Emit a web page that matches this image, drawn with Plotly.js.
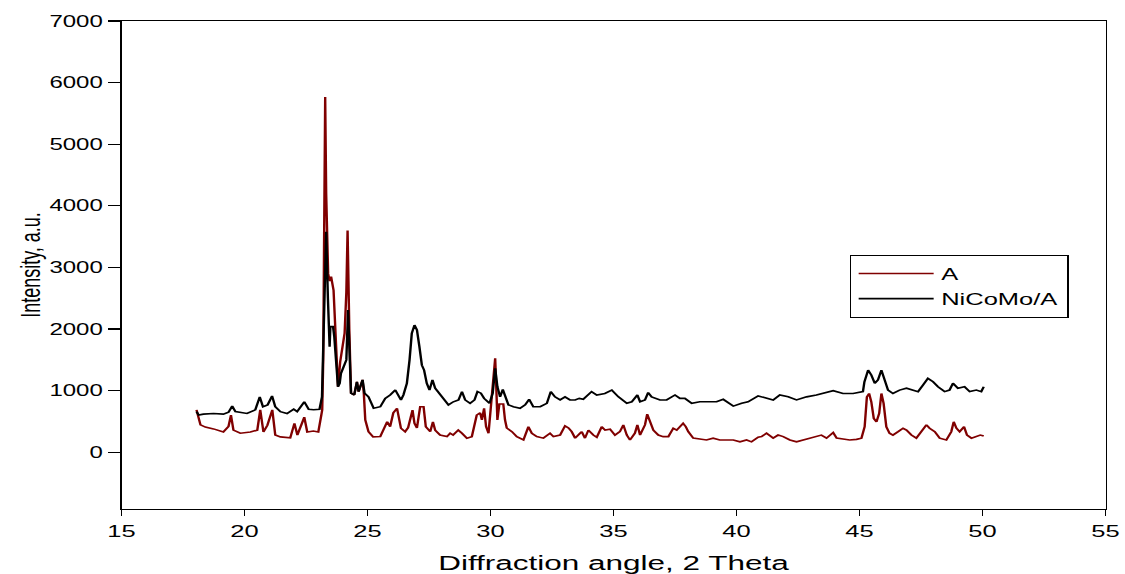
<!DOCTYPE html>
<html>
<head>
<meta charset="utf-8">
<script src="https://cdn.plot.ly/plotly-3.0.1.min.js"></script>
<style>
  html, body { margin: 0; padding: 0; background: #fff; overflow: hidden; width: 1125px; height: 574px; }
  #chart { width: 750px; height: 574px; }
</style>
</head>
<body>
<div id="chart"></div>
<script>
// ---- Data ----
const seriesNames = ['A', 'NiCoMo/A'];

const aAngle = [
  18.05,18.21,18.41,18.74,19.14,19.35,19.45,19.55,19.83,20.24,
  20.52,20.64,20.77,20.93,21.13,21.25,21.46,21.86,22.03,22.15,
  22.43,22.55,22.80,23.00,23.12,23.16,23.20,23.24,23.28,23.32,
  23.40,23.46,23.52,23.62,23.73,23.80,23.89,24.00,24.07,24.14,
  24.19,24.26,24.33,24.46,24.57,24.64,24.72,24.80,24.85,24.88,
  24.91,25.04,25.23,25.52,25.72,25.80,25.92,26.05,26.20,26.25,
  26.36,26.53,26.65,26.83,26.91,27.01,27.14,27.28,27.37,27.55,
  27.66,27.75,27.95,28.23,28.36,28.48,28.69,28.84,29.04,29.24,
  29.44,29.58,29.65,29.74,29.82,29.92,30.03,30.11,30.19,30.24,
  30.28,30.36,30.52,30.59,30.66,30.87,31.07,31.34,31.54,31.68,
  31.88,32.15,32.42,32.56,32.83,33.03,33.17,33.30,33.44,33.64,
  33.71,33.84,33.98,34.18,34.32,34.52,34.66,34.86,35.06,35.26,
  35.40,35.54,35.67,35.87,35.97,36.08,36.28,36.37,36.48,36.62,
  36.82,37.02,37.23,37.43,37.57,37.70,37.83,37.94,38.04,38.24,
  38.51,38.78,39.05,39.32,39.60,39.87,40.14,40.41,40.61,40.88,
  41.02,41.22,41.49,41.69,41.90,42.17,42.44,42.71,42.98,43.25,
  43.45,43.66,43.93,44.07,44.33,44.60,44.88,45.08,45.21,45.30,
  45.39,45.48,45.58,45.69,45.80,45.89,45.98,46.09,46.22,46.36,
  46.57,46.77,46.91,47.11,47.31,47.52,47.72,47.85,48.06,48.26,
  48.53,48.73,48.83,48.94,49.07,49.25,49.37,49.55,49.75,49.91,
  50.05
];
const aIntensity = [
  690,445,410,380,330,420,605,360,310,330,
  360,690,330,440,690,280,250,235,470,280,
  570,330,345,330,600,690,1500,3800,5765,4200,
  2900,2780,2850,2630,1390,1065,1470,1715,1935,2600,
  3600,2000,960,930,1145,985,1060,1175,960,740,
  525,335,250,255,415,495,415,640,715,595,
  390,335,400,685,470,395,740,740,415,335,
  495,360,280,255,310,280,360,310,230,255,
  605,640,525,715,415,310,740,1100,1525,1000,
  525,785,785,525,395,335,255,200,415,310,
  255,230,310,255,280,430,395,335,230,310,
  335,230,360,280,245,415,360,375,280,335,
  445,280,200,310,445,280,445,620,495,360,
  280,255,255,390,360,415,470,415,335,230,
  210,200,230,200,200,200,170,200,170,245,
  255,310,230,280,255,200,170,200,230,255,
  280,230,320,230,210,200,210,230,415,900,
  955,820,550,495,630,955,795,415,310,280,
  335,390,360,280,230,335,445,390,335,230,
  200,335,495,390,335,415,280,230,255,280,
  265
];

const ncmAngle = [
  18.05,18.14,18.33,18.74,19.14,19.35,19.50,19.63,20.10,20.44,
  20.62,20.75,20.94,21.12,21.25,21.46,21.73,22.00,22.14,22.43,
  22.61,22.81,23.05,23.15,23.22,23.32,23.39,23.46,23.49,23.60,
  23.65,23.73,23.80,23.87,23.92,24.03,24.14,24.21,24.27,24.33,
  24.46,24.57,24.64,24.80,24.88,25.04,25.25,25.52,25.72,25.92,
  26.13,26.26,26.36,26.46,26.60,26.71,26.80,26.91,27.01,27.11,
  27.21,27.30,27.41,27.52,27.64,27.75,27.95,28.16,28.29,28.49,
  28.70,28.84,28.97,29.17,29.35,29.47,29.61,29.74,29.96,30.09,
  30.19,30.28,30.39,30.50,30.59,30.73,30.93,31.20,31.41,31.57,
  31.74,32.02,32.29,32.45,32.62,32.83,33.03,33.23,33.44,33.61,
  33.77,34.11,34.32,34.65,34.93,35.20,35.54,35.74,35.97,36.08,
  36.28,36.41,36.55,36.89,37.16,37.50,37.70,37.90,38.18,38.51,
  38.78,39.19,39.46,39.87,40.21,40.47,40.88,41.22,41.49,41.76,
  42.10,42.44,42.85,43.25,43.52,43.93,44.33,44.74,45.14,45.20,
  45.35,45.48,45.62,45.75,45.89,46.03,46.16,46.36,46.63,46.91,
  47.17,47.38,47.58,47.78,47.99,48.19,48.46,48.66,48.80,49.00,
  49.27,49.48,49.75,49.95,50.05
];
const ncmIntensity = [
  660,605,620,630,620,650,750,660,630,690,
  900,740,770,915,740,660,630,700,660,820,
  700,690,700,900,2000,3580,2500,1715,2040,2040,
  1875,1390,1065,1120,1280,1390,1500,2310,1500,960,
  930,1145,985,1175,960,900,715,740,875,930,
  1010,930,850,930,1120,1500,1930,2065,1985,1715,
  1415,1335,1120,1010,1175,1040,930,820,770,820,
  850,985,850,795,850,985,960,875,795,960,
  1365,1065,900,1020,930,770,740,715,770,860,
  740,740,795,985,900,850,900,850,850,875,
  860,985,930,955,1010,900,795,820,930,820,
  850,970,900,850,850,930,875,875,795,820,
  820,820,860,750,795,820,915,875,850,930,
  900,850,900,930,955,1000,955,955,985,1145,
  1335,1255,1120,1175,1335,1175,1010,955,1010,1040,
  1010,985,1090,1200,1145,1065,985,1010,1120,1040,
  1065,985,1010,985,1065
];

const xTickVals = [15, 20, 25, 30, 35, 40, 45, 50, 55];
const yTickVals = [0, 1000, 2000, 3000, 4000, 5000, 6000, 7000];
const seriesColors = ['#800000', '#000000'];

// ---- Chart ----
const FONT = 'Liberation Sans, Arial, sans-serif';
const traces = [
  { x: aAngle, y: aIntensity, name: seriesNames[0], type: 'scatter', mode: 'lines',
    line: { color: seriesColors[0], width: 1.6 } },
  { x: ncmAngle, y: ncmIntensity, name: seriesNames[1], type: 'scatter', mode: 'lines',
    line: { color: seriesColors[1], width: 1.6 } }
];

const layout = {
  width: 750, height: 574,
  margin: { l: 80.67, r: 12.67, t: 21, b: 65 },
  paper_bgcolor: '#fff', plot_bgcolor: '#fff',
  font: { family: FONT, color: '#000' },
  showlegend: true,
  legend: {
    x: 0.740, y: 0.5205, xanchor: 'left', yanchor: 'top',
    bordercolor: '#000', borderwidth: 1, bgcolor: '#fff',
    font: { family: FONT, size: 17, color: '#000' },
    itemwidth: 50, tracegroupgap: 0
  },
  xaxis: {
    range: [15, 55], tickvals: xTickVals, ticks: 'outside', ticklen: 6, tickwidth: 1.2,
    tickcolor: '#000', showline: true, linecolor: '#000', linewidth: 1.3, mirror: true,
    showgrid: false, zeroline: false, tickfont: { family: FONT, size: 17, color: '#000' },
    title: { text: 'Diffraction angle, 2 Theta', font: { family: FONT, size: 21, color: '#000' } }
  },
  yaxis: {
    range: [-920, 7000], tickvals: yTickVals, ticks: 'outside', ticklen: 8, tickwidth: 1.2,
    tickcolor: '#000', showline: true, linecolor: '#000', linewidth: 1.3, mirror: true,
    showgrid: false, zeroline: false, tickfont: { family: FONT, size: 16, color: '#000' },
    title: { text: 'Intensity, a.u.', font: { family: FONT, size: 18, color: '#000' } }
  }
};

const gd = document.getElementById('chart');
Plotly.newPlot(gd, traces, layout, { displayModeBar: false, staticPlot: true }).then(function () {
  // the reference picture is stretched horizontally
  gd.style.transformOrigin = '0 0';
  gd.style.transform = 'scaleX(1.5)';
});
</script>
</body>
</html>
